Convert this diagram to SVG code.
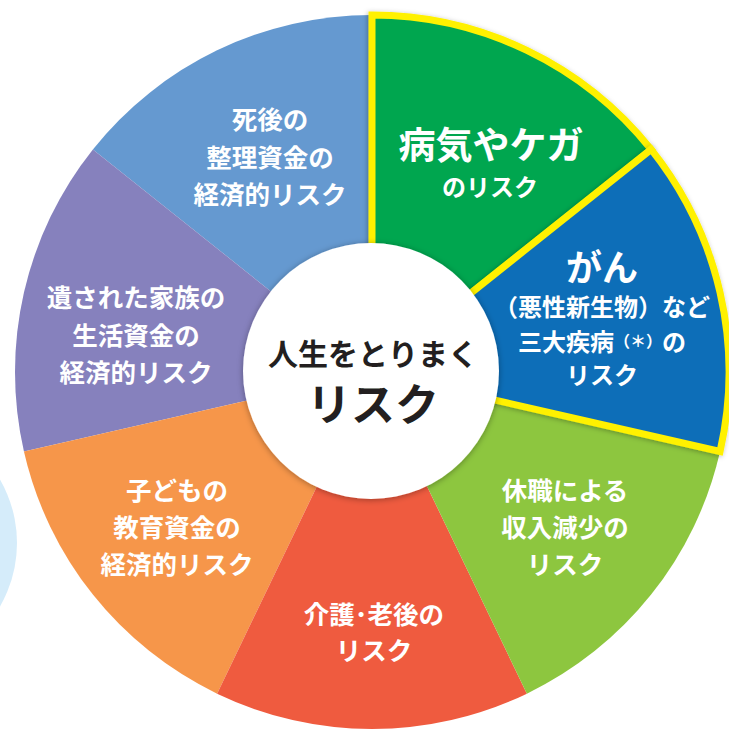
<svg xmlns="http://www.w3.org/2000/svg" width="729" height="733" viewBox="0 0 729 733">
<defs>
<filter id="sh" x="-20%" y="-20%" width="140%" height="140%">
<feDropShadow dx="0" dy="1" stdDeviation="3" flood-color="#000" flood-opacity="0.35"/>
</filter>
<filter id="sh2" x="-20%" y="-20%" width="140%" height="140%">
<feDropShadow dx="-1" dy="1" stdDeviation="2.5" flood-color="#000" flood-opacity="0.3"/>
</filter>
</defs>
<style>
.t{font-family:"Noto Sans CJK JP","Noto Sans CJK SC",sans-serif;font-weight:700;fill:#fff;text-anchor:middle;dominant-baseline:central}
.s{font-size:25.5px}
.c{fill:#231f20}
.hl{stroke:#fff100;stroke-width:7;stroke-linejoin:miter}
</style>
<circle cx="-110" cy="543" r="127" fill="#d5ecfa"/>
<g id="seg-shigo">
<path d="M372,372 L92.89,149.41 A357,357 0 0,1 372,15 Z" fill="#6599d0"/>
<text class="t s" x="270" y="117">死後の</text>
<text class="t s" x="270" y="155">整理資金の</text>
<text class="t s" x="270" y="192">経済的リスク</text>
</g>
<g id="seg-izoku">
<path d="M372,372 L23.95,451.44 A357,357 0 0,1 92.89,149.41 Z" fill="#8681bd"/>
<text class="t s" x="136" y="295">遺された家族の</text>
<text class="t s" x="136" y="333">生活資金の</text>
<text class="t s" x="136" y="370">経済的リスク</text>
</g>
<g id="seg-kodomo">
<path d="M372,372 L217.10,693.65 A357,357 0 0,1 23.95,451.44 Z" fill="#f6964a"/>
<text class="t s" x="177" y="488">子どもの</text>
<text class="t s" x="177" y="525">教育資金の</text>
<text class="t s" x="177" y="562">経済的リスク</text>
</g>
<g id="seg-kaigo">
<path d="M372,372 L526.90,693.65 A357,357 0 0,1 217.10,693.65 Z" fill="#ef5b3f"/>
<text class="t s" x="374" y="612">介護･老後の</text>
<text class="t s" x="374" y="648">リスク</text>
</g>
<g id="seg-kyushoku">
<path d="M372,372 L720.05,451.44 A357,357 0 0,1 526.90,693.65 Z" fill="#8dc63f"/>
<text class="t s" x="565" y="488">休職による</text>
<text class="t s" x="565" y="525">収入減少の</text>
<text class="t s" x="565" y="562">リスク</text>
</g>
<g id="seg-byoki" filter="url(#sh2)">
<path class="hl" d="M372,372 L372,15 A357,357 0 0,1 651.11,149.41 Z" fill="#00a650"/>
</g>
<g id="seg-gan" filter="url(#sh2)">
<path class="hl" d="M372,372 L651.11,149.41 A357,357 0 0,1 720.05,451.44 Z" fill="#106eb8"/>
</g>
<g id="labels-hl">
<text class="t" x="491" y="143" font-size="37">病気やケガ</text>
<text class="t" x="490" y="185" font-size="24">のリスク</text>
<text class="t" x="602" y="265" font-size="36">がん</text>
<text class="t" x="602" y="305" font-size="24">（悪性新生物）など</text>
<text class="t" x="602" y="340" font-size="24">三大疾病<tspan font-size="16">（＊）</tspan>の</text>
<text class="t" x="602" y="373" font-size="24">リスク</text>
</g>
<g id="center">
<circle cx="371" cy="371" r="128" fill="#fff" filter="url(#sh)"/>
<text class="t c" x="373" y="352" font-size="30">人生をとりまく</text>
<text class="t c" x="373" y="402" font-size="44" font-weight="900">リスク</text>
</g>
<g id="connectors"></g>
</svg>
